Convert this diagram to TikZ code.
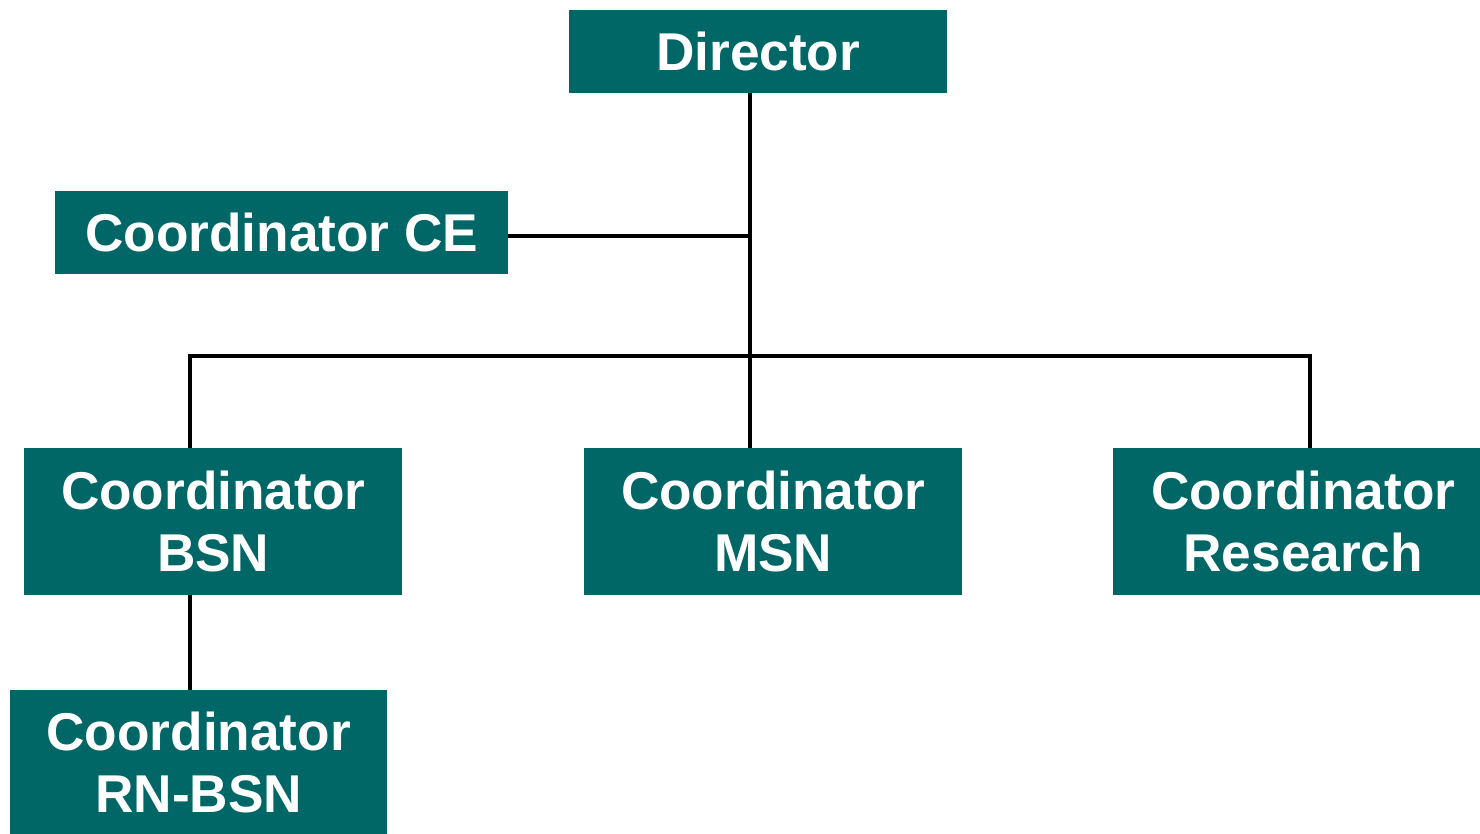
\documentclass[tikz,border=0pt]{standalone}
\usepackage{fontspec}
\setmainfont{Liberation Sans}
\definecolor{teal6}{HTML}{006666}
\begin{document}
\begin{tikzpicture}[x=1pt,y=-1pt,
  box/.style={fill=teal6, draw=none, inner sep=0pt, anchor=north west, align=center,
    text=white, font=\fontsize{53.2}{62}\selectfont\bfseries},
  conn/.style={line width=4pt, black}]
\useasboundingbox (0,0) rectangle (1480,834);
\node[box, minimum width=378pt, minimum height=83pt] (dir) at (569,10) {Director};
\node[box, minimum width=453pt, minimum height=83pt] (ce) at (55,191) {Coordinator CE};
\node[box, minimum width=378pt, minimum height=147pt] (bsn) at (24,448) {Coordinator\\BSN};
\node[box, minimum width=378pt, minimum height=147pt] (msn) at (584,448) {Coordinator\\MSN};
\node[box, minimum width=380pt, minimum height=147pt] (res) at (1113,448) {Coordinator\\Research};
\node[box, minimum width=377pt, minimum height=145pt] (rn) at (10,690) {Coordinator\\RN-BSN};
\coordinate (jce) at (750,236);
\coordinate (jbar) at (750,356);
\coordinate (jl) at (190,356);
\coordinate (jr) at (1310,356);
\draw[conn] (dir.south -| jce) -- (msn.north -| jce);
\draw[conn] (ce.east |- jce) -- (jce);
\draw[conn] (bsn.north -| jl) -- (jl) -- (jr) -- (res.north -| jr);
\draw[conn] (bsn.south -| jl) -- (rn.north -| jl);
\end{tikzpicture}
\end{document}
